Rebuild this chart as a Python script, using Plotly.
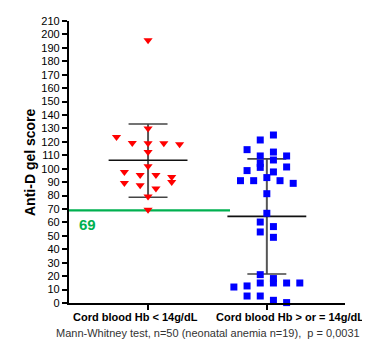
import plotly.graph_objects as go

# ---------------- data ----------------
categories = ["Cord blood Hb < 14g/dL", "Cord blood Hb > or = 14g/dL"]
red_values = [195.6, 129.9, 123.6, 119.1, 119.0, 119.0, 118.2, 112.4, 101.8, 97.5,
              95.3, 95.3, 93.8, 90.1, 89.4, 87.6, 85.2, 79.4, 69.5]
red_steps = [0, 0, -4, -2, 0, 2, 4, 0, 0, -3, -1, 1, 3, 3, -3, -1, 1, 0, 0]
blue_values = [125.1, 121.4, 114.2, 112.4, 109.5, 109.5, 106.5, 104.0, 101.0, 101.3,
               98.6, 97.6, 93.4, 91.1, 91.1, 91.1, 89.1, 81.4, 66.8, 60.3,
               56.9, 52.9, 48.9, 21.1, 18.2, 14.9, 14.9, 14.9, 14.9, 12.7,
               11.9, 5.2, 5.2, 2.0, 0.3]
blue_steps = [1, -1, -3, 1, -1, 3, 1, -1, -1, 3,
              -3, 1, 0, -4, -2, 2, 4, 0, 0, -1,
              1, -1, 1, -1, 1, 1, -1, 3, 5, -3,
              -5, -3, -1, 1, 3]
group_means = [106.3, 64.5]
group_sd_upper = [133.3, 107.3]
group_sd_lower = [78.7, 21.6]
threshold = 69
threshold_label = "69"
y_ticks = list(range(0, 211, 10))
footnote = "Mann-Whitney test, n=50 (neonatal anemia n=19),  p = 0,0031"
y_title = "Anti-D gel score"

# ---------------- layout params ----------------
red_step_w = 0.0332
blue_step_w = 0.0555
mean_half = 0.332
cap_half = 0.164
FONT = "Liberation Sans, Arial"

fig = go.Figure()

# SD whiskers & mean lines
for gi in range(2):
    fig.add_trace(go.Scatter(x=[gi, gi], y=[group_sd_lower[gi], group_sd_upper[gi]],
                             mode="lines", line=dict(color="#555555", width=2),
                             hoverinfo="skip", showlegend=False))
    for yv in (group_sd_lower[gi], group_sd_upper[gi]):
        fig.add_trace(go.Scatter(x=[gi - cap_half, gi + cap_half], y=[yv, yv],
                                 mode="lines", line=dict(color="#444444", width=1.6),
                                 hoverinfo="skip", showlegend=False))
    fig.add_trace(go.Scatter(x=[gi - mean_half, gi + mean_half],
                             y=[group_means[gi], group_means[gi]],
                             mode="lines", line=dict(color="#111111", width=1.6),
                             hoverinfo="skip", showlegend=False))

# threshold line
fig.add_trace(go.Scatter(x=[-0.6655, 0.69], y=[threshold, threshold], mode="lines",
                         line=dict(color="#00b050", width=2.2),
                         hoverinfo="skip", showlegend=False))

# points
fig.add_trace(go.Scatter(
    x=[0 + s * red_step_w * 2 for s in red_steps], y=red_values, mode="markers",
    marker=dict(symbol="triangle-down", color="#ff0000", size=8, line=dict(width=0)),
    showlegend=False, cliponaxis=False))
fig.add_trace(go.Scatter(
    x=[1 + s * blue_step_w for s in blue_steps], y=blue_values, mode="markers",
    marker=dict(symbol="square", color="#0000ff", size=7, line=dict(width=0)),
    showlegend=False, cliponaxis=False))

annotations = [
    dict(x=-0.6655, y=threshold, xref="x", yref="y", text="<b>" + threshold_label + "</b>",
         showarrow=False, xanchor="left", yanchor="top", xshift=8, yshift=-4,
         font=dict(color="#00b050", size=15, family=FONT)),
    dict(x=0, y=0, xref="x", yref="paper", text="<b>" + categories[0] + "</b>",
         showarrow=False, xanchor="center", yanchor="top", yshift=-6, xshift=-13,
         font=dict(color="black", size=11, family=FONT)),
    dict(x=1, y=0, xref="x", yref="paper", text="<b>" + categories[1] + "</b>",
         showarrow=False, xanchor="center", yanchor="top", yshift=-6, xshift=23,
         font=dict(color="black", size=11, family=FONT)),
    dict(x=0.5, y=0, xref="paper", yref="paper", text=footnote,
         showarrow=False, xanchor="center", yanchor="top", yshift=-22, xshift=1,
         font=dict(color="#333333", size=11, family=FONT)),
    dict(x=0, y=0.5, xref="paper", yref="paper", text="<b>" + y_title + "</b>",
         showarrow=False, xanchor="center", yanchor="middle", xshift=-39, textangle=-90,
         font=dict(color="black", size=14, family=FONT)),
]

fig.update_layout(
    width=370, height=341,
    margin=dict(l=60.5, r=33, t=12.7, b=46.3, autoexpand=False),
    plot_bgcolor="white", paper_bgcolor="white",
    showlegend=False,
    annotations=annotations,
    xaxis=dict(range=[-0.6655, 1.658], tickvals=[0, 1], showticklabels=False,
               ticks="outside", ticklen=5, tickwidth=2, tickcolor="black",
               showline=True, linecolor="black", linewidth=2.2, automargin=False,
               showgrid=False, zeroline=False, fixedrange=True),
    yaxis=dict(range=[0, 210], tickvals=y_ticks, ticks="outside", ticklen=5,
               tickwidth=2, tickcolor="black", showline=True, linecolor="black",
               linewidth=2.2, showgrid=False, zeroline=False, automargin=False,
               tickfont=dict(family=FONT, size=11, color="black"),
               tickprefix="<b>", ticksuffix="</b>"),
)

fig.write_html("out.html")
